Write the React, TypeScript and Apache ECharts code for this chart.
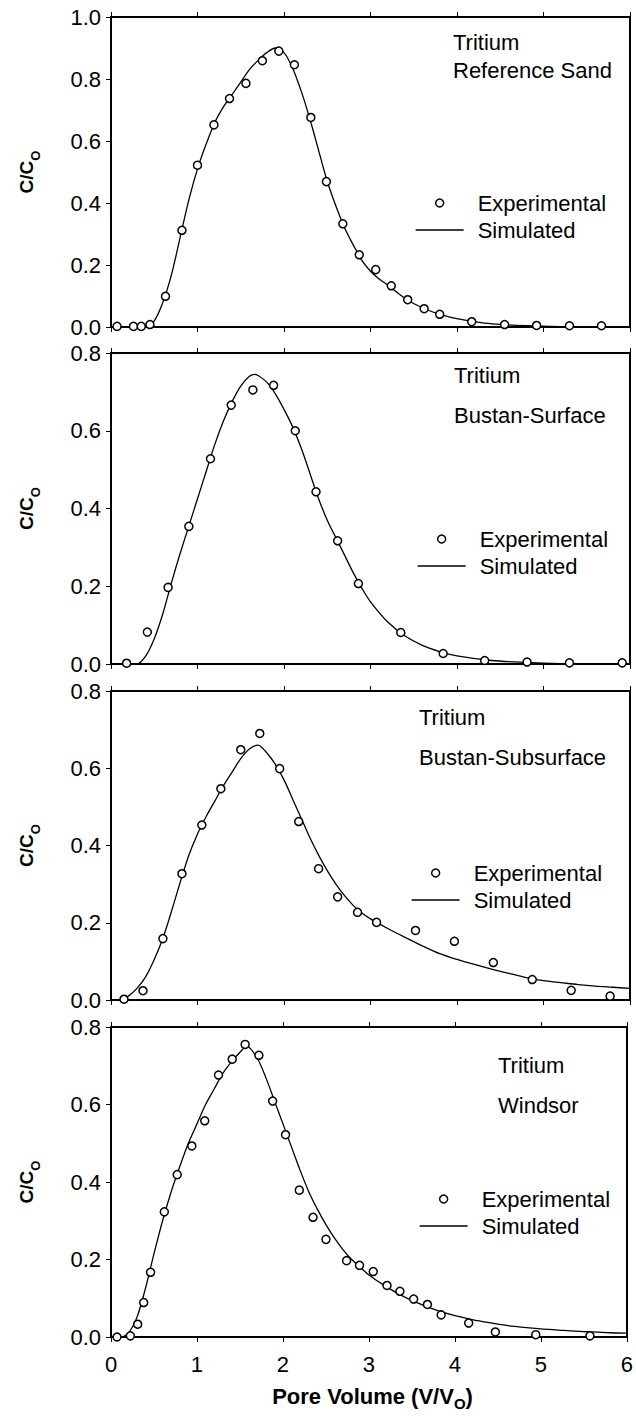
import React, { useEffect, useRef } from 'react';
import * as echarts from 'echarts';

const FONT = "'Liberation Sans', Arial, Helvetica, sans-serif";

// ---------- axis settings ----------
const xMin = 0;
const xMax = 6;
const xStep = 1;
const yMaxes = [1.0, 0.8, 0.8, 0.8];
const yStep = 0.2;

// ---------- panel texts ----------
const tracer = 'Tritium';
const soilNames = ['Reference Sand', 'Bustan-Surface', 'Bustan-Subsurface', 'Windsor'];
const expName = 'Experimental';
const simName = 'Simulated';

// ---------- Panel 1: Reference Sand ----------
const exp1X = [0.07, 0.26, 0.35, 0.45, 0.63, 0.82, 1.0, 1.19, 1.37, 1.56, 1.75, 1.94, 2.12, 2.31, 2.49, 2.68, 2.87, 3.06, 3.24, 3.43, 3.62, 3.8, 4.17, 4.55, 4.92, 5.3, 5.67];
const exp1Y = [0.002, 0.002, 0.002, 0.008, 0.099, 0.312, 0.522, 0.652, 0.737, 0.786, 0.859, 0.89, 0.846, 0.676, 0.469, 0.333, 0.233, 0.185, 0.133, 0.088, 0.059, 0.041, 0.017, 0.008, 0.005, 0.004, 0.004];
const sim1X = [0, 0.4, 0.5, 0.6, 0.7, 0.8, 0.9, 1.0, 1.1, 1.2, 1.3, 1.4, 1.5, 1.6, 1.7, 1.8, 1.9, 2.0, 2.1, 2.2, 2.3, 2.4, 2.5, 2.6, 2.7, 2.8, 2.9, 3.0, 3.1, 3.2, 3.4, 3.6, 3.8, 4.0, 4.2, 4.4, 4.8, 5.2, 5.6, 6.0];
const sim1Y = [0, 0, 0.02, 0.08, 0.17, 0.29, 0.41, 0.51, 0.59, 0.66, 0.71, 0.75, 0.79, 0.83, 0.86, 0.885, 0.9, 0.885, 0.835, 0.76, 0.67, 0.57, 0.47, 0.39, 0.32, 0.265, 0.215, 0.18, 0.155, 0.135, 0.092, 0.062, 0.041, 0.027, 0.017, 0.01, 0.004, 0.001, 0, 0];

// ---------- Panel 2: Bustan-Surface ----------
const exp2X = [0.18, 0.42, 0.66, 0.9, 1.15, 1.39, 1.64, 1.88, 2.13, 2.37, 2.62, 2.86, 3.35, 3.84, 4.32, 4.81, 5.3, 5.91];
const exp2Y = [0.002, 0.082, 0.197, 0.354, 0.528, 0.666, 0.705, 0.717, 0.6, 0.443, 0.317, 0.207, 0.081, 0.027, 0.009, 0.005, 0.003, 0.003];
const sim2X = [0, 0.3, 0.4, 0.5, 0.6, 0.7, 0.8, 0.9, 1.0, 1.1, 1.2, 1.3, 1.4, 1.5, 1.6, 1.66, 1.7, 1.8, 1.9, 2.0, 2.1, 2.2, 2.3, 2.4, 2.5, 2.6, 2.7, 2.8, 2.9, 3.0, 3.2, 3.4, 3.6, 3.8, 4.0, 4.4, 4.8, 5.2, 5.6, 6.0];
const sim2Y = [0, 0, 0.02, 0.065, 0.13, 0.21, 0.285, 0.355, 0.425, 0.495, 0.565, 0.625, 0.675, 0.715, 0.74, 0.745, 0.742, 0.725, 0.695, 0.655, 0.61, 0.555, 0.49, 0.425, 0.37, 0.325, 0.28, 0.235, 0.195, 0.16, 0.108, 0.072, 0.048, 0.032, 0.021, 0.009, 0.004, 0.001, 0, 0];

// ---------- Panel 3: Bustan-Subsurface ----------
const exp3X = [0.15, 0.37, 0.6, 0.82, 1.05, 1.27, 1.5, 1.72, 1.95, 2.17, 2.4, 2.62, 2.85, 3.07, 3.52, 3.97, 4.42, 4.87, 5.32, 5.77];
const exp3Y = [0.002, 0.024, 0.159, 0.327, 0.453, 0.547, 0.648, 0.69, 0.599, 0.462, 0.34, 0.267, 0.227, 0.201, 0.18, 0.152, 0.097, 0.053, 0.025, 0.01];
const sim3X = [0.1, 0.2, 0.3, 0.4, 0.5, 0.6, 0.7, 0.8, 0.9, 1.0, 1.1, 1.2, 1.3, 1.4, 1.5, 1.6, 1.7, 1.8, 1.9, 2.0, 2.1, 2.2, 2.3, 2.4, 2.5, 2.6, 2.7, 2.8, 2.9, 3.0, 3.2, 3.4, 3.6, 3.8, 4.0, 4.2, 4.4, 4.6, 4.8, 5.0, 5.2, 5.4, 5.6, 5.8, 6.0];
const sim3Y = [0, 0.01, 0.03, 0.06, 0.105, 0.16, 0.23, 0.305, 0.375, 0.43, 0.475, 0.515, 0.555, 0.59, 0.625, 0.65, 0.66, 0.64, 0.61, 0.57, 0.52, 0.47, 0.42, 0.375, 0.335, 0.3, 0.27, 0.245, 0.225, 0.21, 0.185, 0.162, 0.14, 0.12, 0.105, 0.092, 0.08, 0.069, 0.058, 0.05, 0.045, 0.04, 0.036, 0.033, 0.03];

// ---------- Panel 4: Windsor ----------
const exp4X = [0.07, 0.225, 0.31, 0.38, 0.46, 0.62, 0.77, 0.94, 1.09, 1.25, 1.41, 1.56, 1.72, 1.88, 2.03, 2.19, 2.35, 2.5, 2.74, 2.89, 3.05, 3.21, 3.36, 3.52, 3.68, 3.84, 4.16, 4.47, 4.94, 5.57];
const exp4Y = [0.0, 0.003, 0.033, 0.089, 0.167, 0.323, 0.419, 0.493, 0.558, 0.676, 0.717, 0.755, 0.727, 0.609, 0.522, 0.379, 0.309, 0.252, 0.197, 0.185, 0.169, 0.133, 0.118, 0.098, 0.084, 0.057, 0.036, 0.013, 0.006, 0.003];
const sim4X = [0, 0.1, 0.2, 0.3, 0.4, 0.5, 0.6, 0.7, 0.8, 0.9, 1.0, 1.1, 1.2, 1.3, 1.4, 1.5, 1.58, 1.7, 1.8, 1.9, 2.0, 2.1, 2.2, 2.3, 2.4, 2.5, 2.6, 2.7, 2.8, 2.9, 3.0, 3.2, 3.4, 3.6, 3.8, 4.0, 4.2, 4.4, 4.6, 4.8, 5.0, 5.2, 5.4, 5.6, 5.8, 6.0];
const sim4Y = [0, 0, 0.01, 0.05, 0.125, 0.215, 0.3, 0.375, 0.44, 0.5, 0.55, 0.6, 0.64, 0.68, 0.71, 0.735, 0.75, 0.72, 0.67, 0.61, 0.55, 0.49, 0.43, 0.375, 0.33, 0.29, 0.255, 0.225, 0.2, 0.18, 0.16, 0.13, 0.105, 0.085, 0.068, 0.055, 0.045, 0.037, 0.03, 0.025, 0.021, 0.018, 0.015, 0.013, 0.011, 0.01];

const expXs = [exp1X, exp2X, exp3X, exp4X];
const expYs = [exp1Y, exp2Y, exp3Y, exp4Y];
const simXs = [sim1X, sim2X, sim3X, sim4X];
const simYs = [sim1Y, sim2Y, sim3Y, sim4Y];

// ---------- layout (pixels) ----------
const gridLeft = 111;
const gridWidth = 519;
const gridTops = [17, 353, 691, 1027];
const gridHeights = [310, 311, 309, 310];
const legendLefts = [415, 417, 411, 419];
const legendCenters = [203, 539, 873, 1199];
const annotX = [453, 454, 419, 498];
const annotY1 = [42, 375, 717, 1065];
const annotY2 = [70, 415, 757, 1105];

function measure(text: string, font: string): number {
  const ctx = document.createElement('canvas').getContext('2d');
  if (!ctx) return text.length * 10;
  ctx.font = font;
  return ctx.measureText(text).width;
}

export default function App() {
  const ref = useRef<HTMLDivElement>(null);

  useEffect(() => {
    document.body.style.margin = '0';
    if (!ref.current) return;
    const chart = echarts.init(ref.current, null, { renderer: 'svg' });

    const grids: any[] = [];
    const xAxes: any[] = [];
    const yAxes: any[] = [];
    const series: any[] = [];
    const legends: any[] = [];
    const graphics: any[] = [];

    const axisLine = { show: true, onZero: false, lineStyle: { color: '#000', width: 2 } };
    const tick = { show: true, inside: false, length: 5, lineStyle: { color: '#000', width: 1 } };

    for (let i = 0; i < 4; i++) {
      grids.push({ left: gridLeft, width: gridWidth, top: gridTops[i], height: gridHeights[i], containLabel: false });
    }
    for (let i = 0; i < 4; i++) {
      xAxes.push({
        type: 'value', gridIndex: i, position: 'bottom', min: xMin, max: xMax, interval: xStep,
        axisLine, axisTick: tick, splitLine: { show: false },
        axisLabel: {
          show: i === 3, margin: 16, color: '#000', fontSize: 22, fontFamily: FONT,
          formatter: (v: number) => String(v),
        },
      });
    }
    for (let i = 0; i < 4; i++) {
      xAxes.push({
        type: 'value', gridIndex: i, position: 'top', min: xMin, max: xMax, interval: xStep,
        axisLine, axisTick: tick, axisLabel: { show: false }, splitLine: { show: false },
      });
    }
    for (let i = 0; i < 4; i++) {
      yAxes.push({
        type: 'value', gridIndex: i, position: 'left', min: 0, max: yMaxes[i], interval: yStep,
        axisLine, axisTick: tick, splitLine: { show: false },
        axisLabel: {
          margin: 10, color: '#000', fontSize: 22, fontFamily: FONT,
          formatter: (v: number) => v.toFixed(1),
        },
      });
    }
    for (let i = 0; i < 4; i++) {
      yAxes.push({
        type: 'value', gridIndex: i, position: 'right', min: 0, max: yMaxes[i], interval: yStep,
        axisLine, axisTick: { show: false }, axisLabel: { show: false }, splitLine: { show: false },
      });
    }

    for (let i = 0; i < 4; i++) {
      series.push({
        type: 'line', name: simName, xAxisIndex: i, yAxisIndex: i,
        data: simXs[i].map((x, j) => [x, simYs[i][j]]),
        symbol: 'none', showSymbol: false, smooth: 0.3,
        lineStyle: { color: '#000', width: 1.3 }, itemStyle: { color: '#000' },
        z: 2, silent: true,
      });
      series.push({
        type: 'scatter', name: expName, xAxisIndex: i, yAxisIndex: i,
        data: expXs[i].map((x, j) => [x, expYs[i][j]]),
        symbol: 'circle', symbolSize: 8,
        itemStyle: { color: '#fff', borderColor: '#000', borderWidth: 1.5, opacity: 1 },
        z: 3, silent: true,
      });
      legends.push({
        show: true, orient: 'vertical', left: legendLefts[i], top: legendCenters[i] - 13.5,
        padding: 0, itemGap: 0, itemWidth: 48, itemHeight: 8, selectedMode: false,
        data: [
          { name: expName, icon: 'circle', itemStyle: { color: '#fff', borderColor: '#000', borderWidth: 1.5 } },
          { name: simName, itemStyle: { color: 'transparent', borderColor: 'transparent', borderWidth: 0, opacity: 0 }, lineStyle: { color: '#000', width: 1.3 } },
        ],
        textStyle: { fontFamily: FONT, fontSize: 22, color: '#000', lineHeight: 27, padding: [0, 0, 0, 9] },
      });

      graphics.push({
        type: 'text', x: annotX[i], y: annotY1[i],
        style: { text: tracer, fontFamily: FONT, fontSize: 22, fill: '#000', align: 'left', verticalAlign: 'middle' },
      });
      graphics.push({
        type: 'text', x: annotX[i], y: annotY2[i],
        style: { text: soilNames[i], fontFamily: FONT, fontSize: 22, fill: '#000', align: 'left', verticalAlign: 'middle' },
      });

      const mainFont = `bold 19px ${FONT}`;
      const subFont = `bold 13px ${FONT}`;
      const w1 = measure('C/C', mainFont);
      const w2 = measure('O', subFont);
      const total = w1 + w2;
      const cy = gridTops[i] + gridHeights[i] / 2;
      graphics.push({
        type: 'group', x: 26, y: cy, rotation: Math.PI / 2,
        children: [
          {
            type: 'text', x: -total / 2, y: 0,
            style: { text: 'C/C', fontFamily: FONT, fontSize: 19, fontWeight: 'bold', fill: '#000', align: 'left', verticalAlign: 'middle' },
          },
          {
            type: 'text', x: -total / 2 + w1, y: 9,
            style: { text: 'O', fontFamily: FONT, fontSize: 13, fontWeight: 'bold', fill: '#000', align: 'left', verticalAlign: 'middle' },
          },
        ],
      });
    }

    {
      const mainFont = `bold 22px ${FONT}`;
      const subFont = `bold 15px ${FONT}`;
      const t1 = 'Pore Volume (V/V';
      const t2 = 'O';
      const t3 = ')';
      const w1 = measure(t1, mainFont);
      const w2 = measure(t2, subFont);
      const w3 = measure(t3, mainFont);
      const total = w1 + w2 + w3;
      const x0 = gridLeft + gridWidth / 2 - total / 2 + 2;
      const y0 = 1396;
      graphics.push({
        type: 'group', x: x0, y: y0,
        children: [
          { type: 'text', x: 0, y: 0, style: { text: t1, fontFamily: FONT, fontSize: 22, fontWeight: 'bold', fill: '#000', align: 'left', verticalAlign: 'middle' } },
          { type: 'text', x: w1, y: 7, style: { text: t2, fontFamily: FONT, fontSize: 15, fontWeight: 'bold', fill: '#000', align: 'left', verticalAlign: 'middle' } },
          { type: 'text', x: w1 + w2, y: 0, style: { text: t3, fontFamily: FONT, fontSize: 22, fontWeight: 'bold', fill: '#000', align: 'left', verticalAlign: 'middle' } },
        ],
      });
    }

    chart.setOption({
      animation: false,
      backgroundColor: '#fff',
      grid: grids,
      xAxis: xAxes,
      yAxis: yAxes,
      legend: legends,
      series,
      graphic: graphics,
    });

    return () => chart.dispose();
  }, []);

  return (
    <div
      ref={ref}
      style={{ position: 'absolute', left: 0, top: 0, width: 636, height: 1416, background: '#fff' }}
    />
  );
}
